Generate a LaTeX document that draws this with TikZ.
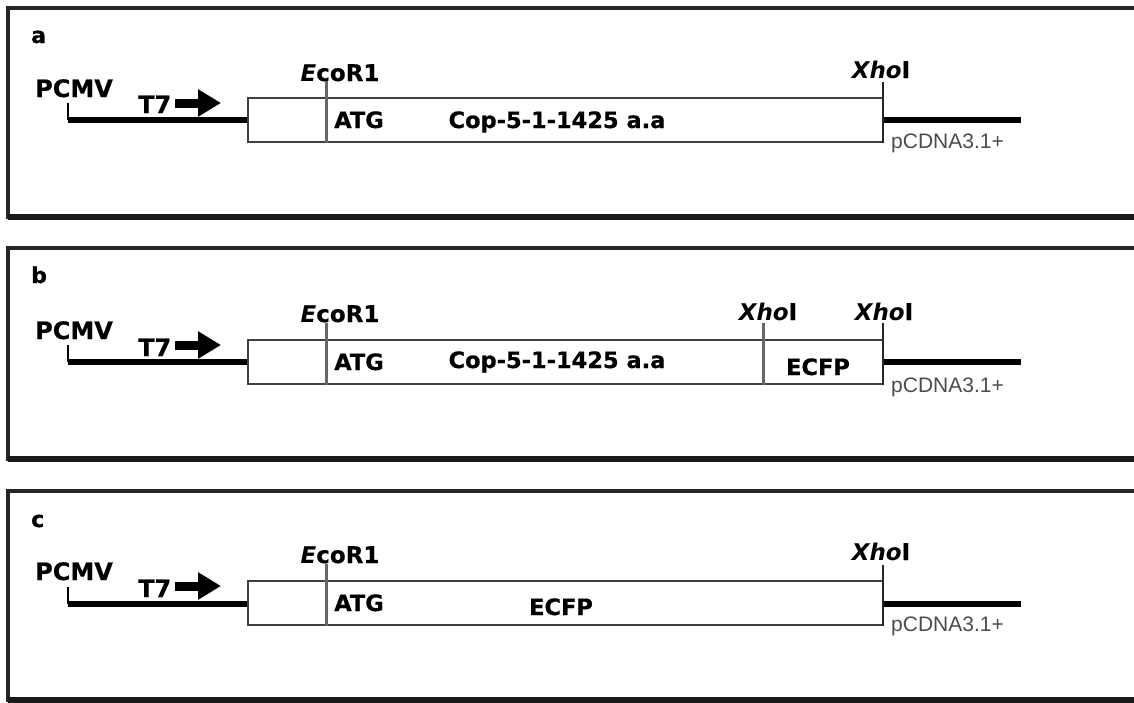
\documentclass[tikz,border=0pt]{standalone}
\usepackage{fontspec}
\setmainfont{DejaVu Sans}[BoldFeatures={FakeBold=0.6}]
\newfontfamily\vecfont{Liberation Sans}
\usepackage{tikz}
\usetikzlibrary{arrows.meta,positioning,calc}
\tikzset{
  panel/.style    ={draw=black!85, line width=3.5pt},
  panelfoot/.style={draw=black!90, line width=6pt},
  lbl/.style      ={font=\fontsize{22}{24}\selectfont\bfseries, inner sep=0pt, anchor=base west},
  prom/.style     ={font=\fontsize{24}{27}\selectfont\bfseries, inner sep=0pt, anchor=base west},
  sitelbl/.style  ={font=\fontsize{23}{26}\selectfont\bfseries, inner sep=0pt, anchor=base},
  genebox/.style  ={rectangle, draw=black!75, line width=2.8pt, minimum width=635pt,
                    minimum height=44pt, inner sep=0pt},
  boxtxt/.style   ={font=\fontsize{22.5}{25}\selectfont\bfseries, inner sep=0pt, anchor=base},
  veclbl/.style   ={font=\vecfont\fontsize{21}{24}\selectfont, text=black!70, inner sep=0pt,
                    anchor=base west},
  dna/.style      ={line width=6.5pt, draw=black},
  pmtick/.style   ={line width=1.4pt, draw=black},
  cut/.style      ={line width=3pt, draw=black!60},
  endcut/.style   ={line width=2.6pt, draw=black!85},
  fwd/.style      ={line width=9pt, draw=black, -{Triangle[length=23pt,width=26pt]}},
}

\begin{document}
\begin{tikzpicture}[x=1pt, y=-1pt]
  \clip (0,0) rectangle (1134,702);

  % a: Cop-5 alone
  \begin{scope}[shift={(0,0)}]
    \draw[panel] (8,8) rectangle (1140,217);
    \draw[panelfoot] (8,217) -- (1140,217);
    \node[lbl] (a-lab) at (31,43) {a};
    \node[prom] (a-pcmv) at (35,97) {PCMV};
    \node[prom] (a-t7) at (138,113) {T7};
    \coordinate (a-arr) at (221,103);
    \node[genebox] (a-box) at (565.5,120) {};
    \coordinate (a-start) at (68,120);
    \coordinate (a-end) at (1021,120);
    \coordinate (a-eco) at (326,81);
    \coordinate (a-xho) at (883,82);
    \node[sitelbl] (a-ecolab) at (340,81) {\textit{E}coR1};
    \node[sitelbl] (a-xholab) at (881,78) {\textit{Xho}I};
    \node[boxtxt] (a-atg) at (359,128) {ATG};
    \node[boxtxt] (a-cop) at (557,128) {Cop-5-1-1425 a.a};
    \node[veclbl] (a-vec) at (891,148) {pCDNA3.1+};
    \draw[pmtick] (a-start) -- ++(0,-17);
    \draw[dna] (a-start) -- (a-box.west);
    \draw[dna] (a-box.east) -- (a-end);
    \draw[fwd] ([xshift=4pt]a-t7.east |- a-arr) -- (a-arr);
    \draw[cut] (a-eco) -- (a-eco |- a-box.south);
    \draw[endcut] (a-xho) -- (a-xho |- a-box.south);
  \end{scope}

  % b: Cop-5 fused to ECFP
  \begin{scope}[shift={(0,242)}]
    \draw[panel] (8,6) rectangle (1140,217);
    \draw[panelfoot] (8,217) -- (1140,217);
    \node[lbl] (b-lab) at (31,41) {b};
    \node[prom] (b-pcmv) at (35,97) {PCMV};
    \node[prom] (b-t7) at (138,114) {T7};
    \coordinate (b-arr) at (221,103);
    \node[genebox] (b-box) at (565.5,120) {};
    \coordinate (b-start) at (68,120);
    \coordinate (b-end) at (1021,120);
    \coordinate (b-eco) at (326,81);
    \coordinate (b-xho1) at (763,81);
    \coordinate (b-xho2) at (883,81);
    \node[sitelbl] (b-ecolab) at (340,80) {\textit{E}coR1};
    \node[sitelbl] (b-xholab1) at (768,78) {\textit{Xho}I};
    \node[sitelbl] (b-xholab2) at (884,78) {\textit{Xho}I};
    \node[boxtxt] (b-atg) at (359,128) {ATG};
    \node[boxtxt] (b-cop) at (557,126) {Cop-5-1-1425 a.a};
    \node[boxtxt] (b-ecfp) at (818,133) {ECFP};
    \node[veclbl] (b-vec) at (891,150) {pCDNA3.1+};
    \draw[pmtick] (b-start) -- ++(0,-17);
    \draw[dna] (b-start) -- (b-box.west);
    \draw[dna] (b-box.east) -- (b-end);
    \draw[fwd] ([xshift=4pt]b-t7.east |- b-arr) -- (b-arr);
    \draw[cut] (b-eco) -- (b-eco |- b-box.south);
    \draw[cut] (b-xho1) -- (b-xho1 |- b-box.south);
    \draw[endcut] (b-xho2) -- (b-xho2 |- b-box.south);
  \end{scope}

  % c: ECFP alone
  \begin{scope}[shift={(0,483)}]
    \draw[panel] (8,8) rectangle (1140,217);
    \draw[panelfoot] (8,217) -- (1140,217);
    \node[lbl] (c-lab) at (31,44) {c};
    \node[prom] (c-pcmv) at (35,97) {PCMV};
    \node[prom] (c-t7) at (138,114) {T7};
    \coordinate (c-arr) at (221,103);
    \node[genebox] (c-box) at (565.5,120) {};
    \coordinate (c-start) at (68,121);
    \coordinate (c-end) at (1021,121);
    \coordinate (c-eco) at (326,81);
    \coordinate (c-xho) at (883,82);
    \node[sitelbl] (c-ecolab) at (340,80) {\textit{E}coR1};
    \node[sitelbl] (c-xholab) at (881,77) {\textit{Xho}I};
    \node[boxtxt] (c-atg) at (359,128) {ATG};
    \node[boxtxt] (c-ecfp) at (561,132) {ECFP};
    \node[veclbl] (c-vec) at (891,148) {pCDNA3.1+};
    \draw[pmtick] (c-start) -- ++(0,-17);
    \draw[dna] (c-start) -- (c-start -| c-box.west);
    \draw[dna] (c-end -| c-box.east) -- (c-end);
    \draw[fwd] ([xshift=4pt]c-t7.east |- c-arr) -- (c-arr);
    \draw[cut] (c-eco) -- (c-eco |- c-box.south);
    \draw[endcut] (c-xho) -- (c-xho |- c-box.south);
  \end{scope}
\end{tikzpicture}
\end{document}
